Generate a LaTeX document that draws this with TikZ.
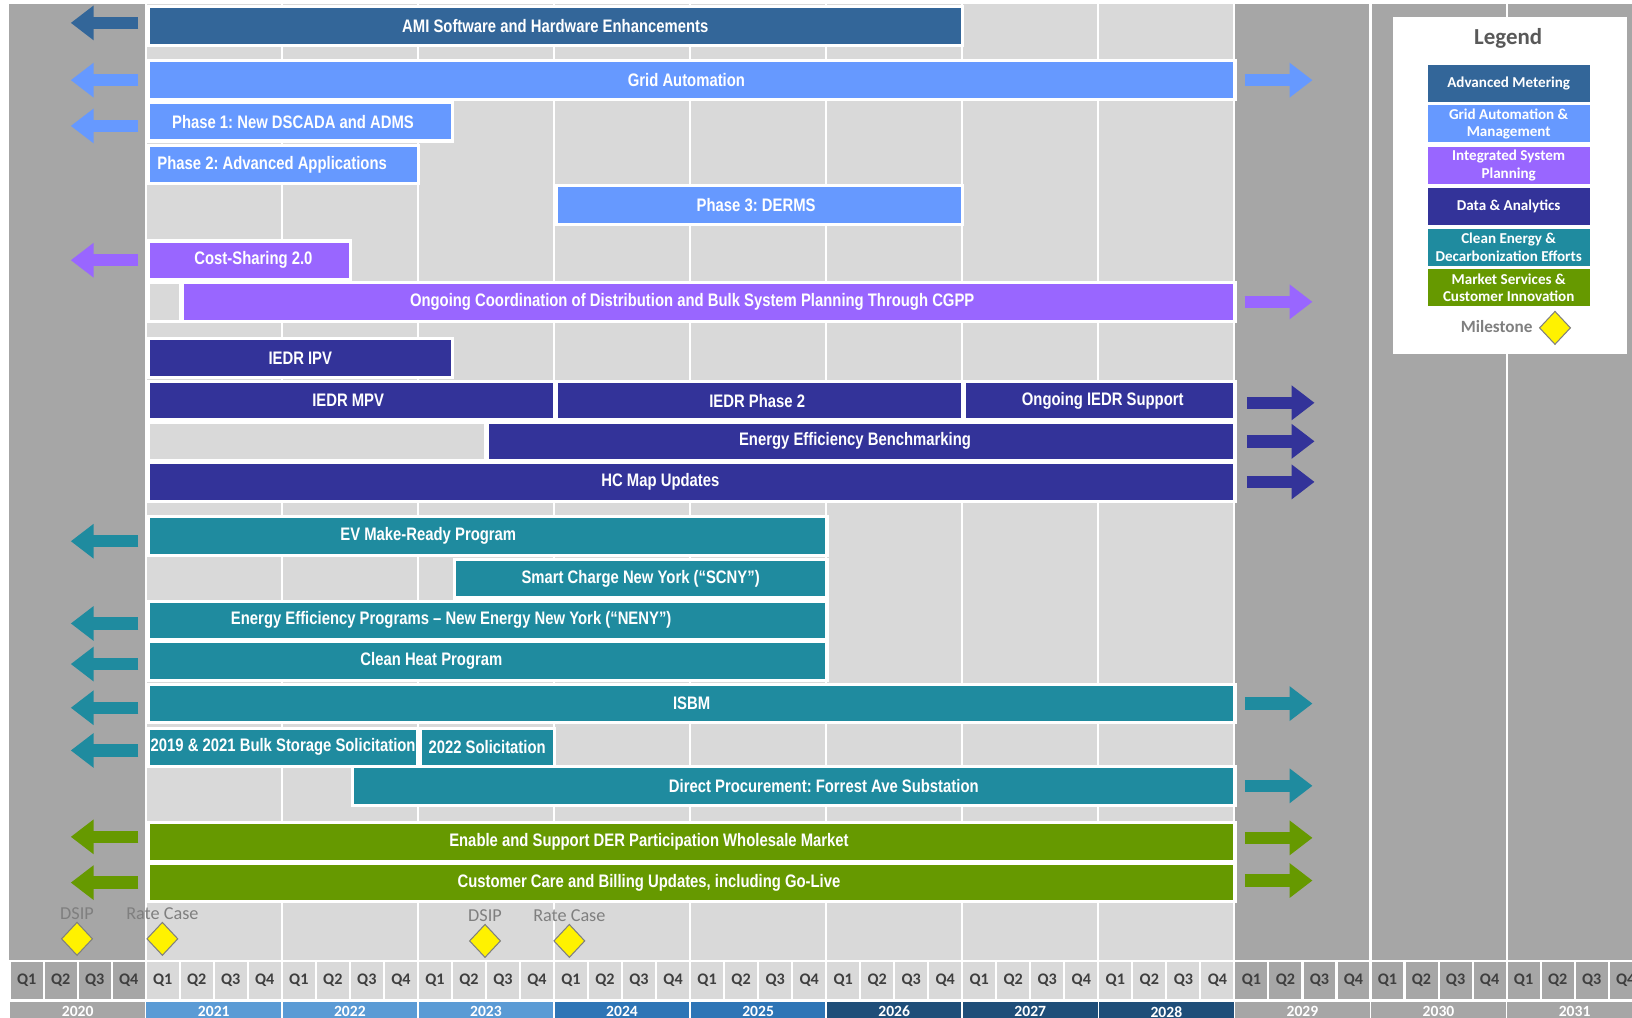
\documentclass[tikz,border=0pt]{standalone}
\usepackage{fontspec}
\usetikzlibrary{arrows.meta,shapes.geometric}
\newfontfamily\barfont[FakeStretch=0.82]{Liberation Sans}
\newfontfamily\calfont{Carlito}
\frenchspacing
\definecolor{amiblue}{HTML}{336699}
\definecolor{gridblue}{HTML}{6699FF}
\definecolor{isppurple}{HTML}{9966FF}
\definecolor{dataindigo}{HTML}{333399}
\definecolor{cleanteal}{HTML}{1F8B9F}
\definecolor{mktgreen}{HTML}{669900}
\definecolor{bgdark}{HTML}{A6A6A6}
\definecolor{bglight}{HTML}{D9D9D9}
\definecolor{yrA}{HTML}{5B9BD5}
\definecolor{yrB}{HTML}{2E75B6}
\definecolor{yrC}{HTML}{1F4E79}
\definecolor{txtgray}{HTML}{7F7F7F}
\definecolor{qgray}{HTML}{3F3F3F}
\tikzset{
  bar/.style={draw=white, line width=3pt, text=white, inner sep=0pt,
    minimum height=37pt, anchor=west,
    font=\barfont\bfseries\fontsize{17.4}{19}\selectfont},
  tshift/.style={execute at begin node={\hspace*{#1}},
    execute at end node={\hspace*{-#1}}},
  larr/.style={line width=12pt, -{Triangle[width=32pt,length=22pt]}},
  rarr/.style={line width=12pt, -{Triangle[width=32pt,length=22pt]}},
  qcell/.style={draw=white, line width=2pt, minimum width=32.6875pt,
    minimum height=37pt, inner sep=0pt, text=qgray,
    font=\calfont\bfseries\fontsize{15.5}{15.5}\selectfont},
  ycell/.style={draw=white, line width=1.5pt, minimum width=130.75pt,
    minimum height=20pt, inner sep=0pt, text=white,
    font=\calfont\bfseries\fontsize{15}{15}\selectfont},
  mstone/.style={diamond, draw=txtgray, fill=yellow, line width=1pt,
    minimum width=30pt, minimum height=32pt, inner sep=0pt},
  mlabel/.style={text=txtgray, inner sep=0pt, label distance=2pt,
    font=\calfont\fontsize{17.5}{18}\selectfont},
  legcell/.style={draw=white, line width=1.5pt, text=white, inner sep=0pt,
    minimum width=157pt, minimum height=37pt, align=center,
    font=\calfont\bfseries\fontsize{14.5}{17}\selectfont},
}
\begin{document}
\begin{tikzpicture}[x=1pt, y=-1pt]
  \useasboundingbox (0,0) rectangle (1568,978);
  \clip (0,0) rectangle (1568,978);
  % background columns
  \fill[white] (0,0) rectangle (1568,978);
  \fill[bgdark] (9,4) rectangle (1568,922);
  \fill[bglight] (140,4) rectangle (1186,922);
  \foreach \k in {0,...,10}
    \draw[white, line width=2pt] ({140+130.75*\k},4) -- ({140+130.75*\k},922);

  % quarters and years
  \foreach \q in {0,...,47}{
    \pgfmathtruncatemacro\qn{mod(\q,4)+1}
    \pgfmathsetmacro\qx{9.25+32.6875*\q+16.34}
    \ifnum\q<4 \def\qfill{bgdark}\else\ifnum\q>35 \def\qfill{bgdark}\else\def\qfill{bglight}\fi\fi
    \node[qcell, fill=\qfill] (q\q) at (\qx,942) {Q\qn};
  }
  \foreach \yr/\col [count=\i from 0] in {2020/bgdark, 2021/yrA, 2022/yrA,
      2023/yrA, 2024/yrB, 2025/yrB, 2026/yrC, 2027/yrC, 2028/yrC,
      2029/bgdark, 2030/bgdark, 2031/bgdark}
    \node[ycell, fill=\col] (y\yr) at ({74.625+130.75*\i},972) {\yr};

  % advanced metering
  \node[bar, fill=amiblue, minimum width=782pt] (ami) at (141,25) {AMI Software and Hardware Enhancements};
  % grid automation
  \node[bar, fill=gridblue, minimum width=1044pt, tshift=-5pt] (grid) at (141,77) {Grid Automation};
  \node[bar, fill=gridblue, minimum width=292pt, tshift=-7pt] (ph1) at (141,117) {Phase 1: New DSCADA and ADMS};
  \node[bar, fill=gridblue, minimum width=260pt, tshift=-11pt] (ph2) at (141,158) {Phase 2: Advanced Applications};
  \node[bar, fill=gridblue, minimum width=390pt, tshift=-3pt] (ph3) at (533,197) {Phase 3: DERMS};
  % integrated system planning
  \node[bar, fill=isppurple, minimum width=194pt, tshift=4pt] (cost) at (141,250) {Cost-Sharing 2.0};
  \node[bar, fill=bglight, minimum width=31pt] (cgppgap) at (141,290) {};
  \node[bar, fill=isppurple, minimum width=1011pt, tshift=-16pt] (cgpp) at (174,290) {Ongoing Coordination of Distribution and Bulk System Planning Through CGPP};
  % data and analytics
  \node[bar, fill=dataindigo, minimum width=292pt] (ipv) at (141,344) {IEDR IPV};
  \node[bar, fill=dataindigo, minimum width=390pt, tshift=-3pt] (mpv) at (141,385) {IEDR MPV};
  \node[bar, fill=dataindigo, minimum width=390pt, tshift=-2pt] (iedr2) at (533,385) {IEDR Phase 2};
  \node[bar, fill=dataindigo, minimum width=260pt, tshift=3pt] (iedrsup) at (925,385) {Ongoing IEDR Support};
  \node[bar, fill=bglight, minimum width=324pt] (eebgap) at (141,424) {};
  \node[bar, fill=dataindigo, minimum width=718pt, tshift=-6pt] (eeb) at (467,424) {Energy Efficiency Benchmarking};
  \node[bar, fill=dataindigo, minimum width=1044pt, tshift=-30pt] (hc) at (141,463) {HC Map Updates};
  % clean energy
  \node[bar, fill=cleanteal, minimum width=652pt, tshift=-57pt] (ev) at (141,515) {EV Make-Ready Program};
  \node[bar, fill=cleanteal, minimum width=358pt] (scny) at (435,556) {Smart Charge New York (“SCNY”)};
  \node[bar, fill=cleanteal, minimum width=652pt, tshift=-35pt] (neny) at (141,596) {Energy Efficiency Programs – New Energy New York (“NENY”)};
  \node[bar, fill=cleanteal, minimum width=652pt, tshift=-54pt] (heat) at (141,635) {Clean Heat Program};
  \node[bar, fill=cleanteal, minimum width=1044pt] (isbm) at (141,676) {ISBM};
  \node[bar, fill=cleanteal, minimum width=259pt] (bulk) at (141,718) {2019 \& 2021 Bulk Storage Solicitation};
  \node[bar, fill=cleanteal, minimum width=129pt] (sol22) at (402,718) {2022 Solicitation};
  \node[bar, fill=cleanteal, minimum width=848pt, tshift=29pt] (direct) at (337,755) {Direct Procurement: Forrest Ave Substation};
  % market services
  \node[bar, fill=mktgreen, minimum width=1044pt, tshift=-41pt] (der) at (141,809) {Enable and Support DER Participation Wholesale Market};
  \node[bar, fill=mktgreen, minimum width=1044pt, tshift=-41pt] (ccb) at (141,848) {Customer Care and Billing Updates, including Go-Live};

  % continuation arrows
  \draw[larr, amiblue] ([xshift=-8pt,yshift=3pt]ami.west) -- ++(-65,0);
  \draw[larr, gridblue] ([xshift=-8pt]grid.west) -- ++(-65,0);
  \draw[larr, gridblue] ([xshift=-8pt,yshift=-4pt]ph1.west) -- ++(-65,0);
  \draw[larr, isppurple] ([xshift=-8pt]cost.west) -- ++(-65,0);
  \draw[larr, cleanteal] ([xshift=-8pt,yshift=-5pt]ev.west) -- ++(-65,0);
  \draw[larr, cleanteal] ([xshift=-8pt,yshift=-3pt]neny.west) -- ++(-65,0);
  \draw[larr, cleanteal] ([xshift=-8pt,yshift=-3pt]heat.west) -- ++(-65,0);
  \draw[larr, cleanteal] ([xshift=-8pt,yshift=-4pt]isbm.west) -- ++(-65,0);
  \draw[larr, cleanteal] ([xshift=-8pt,yshift=-3pt]bulk.west) -- ++(-65,0);
  \draw[larr, mktgreen] ([xshift=-8pt,yshift=5pt]der.west) -- ++(-65,0);
  \draw[larr, mktgreen] ([xshift=-8pt]ccb.west) -- ++(-65,0);
  \draw[rarr, gridblue] ([xshift=8pt]grid.east) -- ++(65,0);
  \draw[rarr, isppurple] ([xshift=8pt]cgpp.east) -- ++(65,0);
  \draw[rarr, dataindigo] ([xshift=10pt,yshift=-2pt]iedrsup.east) -- ++(65,0);
  \draw[rarr, dataindigo] ([xshift=10pt]eeb.east) -- ++(65,0);
  \draw[rarr, dataindigo] ([xshift=10pt]hc.east) -- ++(65,0);
  \draw[rarr, cleanteal] ([xshift=8pt]isbm.east) -- ++(65,0);
  \draw[rarr, cleanteal] ([xshift=8pt]direct.east) -- ++(65,0);
  \draw[rarr, mktgreen] ([xshift=8pt,yshift=4pt]der.east) -- ++(65,0);
  \draw[rarr, mktgreen] ([xshift=8pt,yshift=2pt]ccb.east) -- ++(65,0);

  % milestones
  \node[mstone, label={[mlabel]above:DSIP}] (dsip1) at (74,902) {};
  \node[mstone, label={[mlabel]above:Rate Case}] (rate1) at (156,902) {};
  \node[mstone, label={[mlabel]above:DSIP}] (dsip2) at (466,904) {};
  \node[mstone, label={[mlabel]above:Rate Case}] (rate2) at (547,904) {};

  % legend
  \node[fill=white, minimum width=225pt, minimum height=324pt, anchor=north west, inner sep=0pt] (legend) at (1338,16) {};
  \node[text=black!65, font=\calfont\bfseries\fontsize{22}{22}\selectfont] (legtitle) at (1449,37) {Legend};
  \node[legcell, fill=amiblue] (legami) at (1449.5,80) {Advanced Metering};
  \node[legcell, fill=gridblue] (leggrid) at (1449.5,119) {Grid Automation \&\\Management};
  \node[legcell, fill=isppurple] (legisp) at (1449.5,159) {Integrated System\\Planning};
  \node[legcell, fill=dataindigo] (legdata) at (1449.5,198.5) {Data \& Analytics};
  \node[legcell, fill=cleanteal] (legclean) at (1449.5,237.5) {Clean Energy \&\\Decarbonization Efforts};
  \node[legcell, fill=mktgreen] (legmkt) at (1449.5,276.5) {Market Services \&\\Customer Innovation};
  \node[text=txtgray, font=\calfont\bfseries\fontsize{16.5}{17}\selectfont] (legms) at (1438,314) {Milestone};
  \node[mstone] (legdia) at (1494,315) {};
\end{tikzpicture}
\end{document}
